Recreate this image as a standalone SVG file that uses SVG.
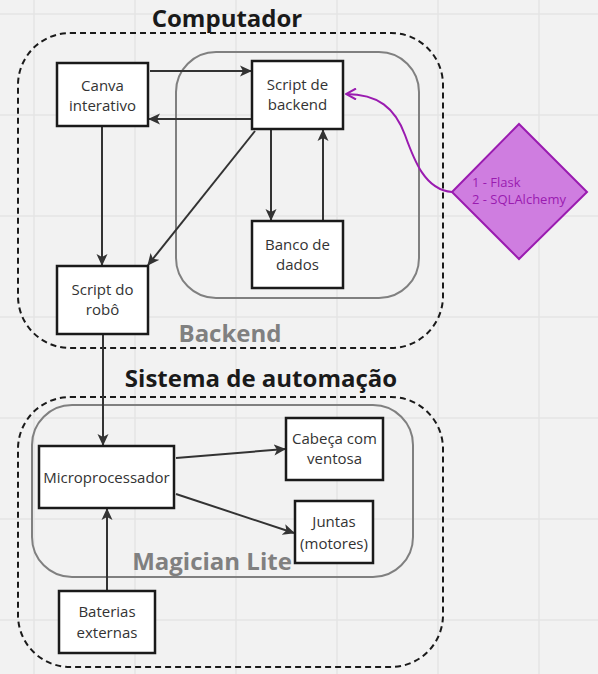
<svg xmlns="http://www.w3.org/2000/svg" width="598" height="674" viewBox="0 0 598 674">
<defs>
<style>
.grid{stroke:#e4e4e4;stroke-width:1.5}
.node{fill:#ffffff;stroke:#1a1a1a;stroke-width:2.5}
.ntext{font-family:"Open Sans","Noto Sans",sans-serif;font-size:15px;fill:#333333;text-anchor:middle}
.title{font-family:"Open Sans","Noto Sans",sans-serif;font-size:24px;font-weight:bold;fill:#1a1a1a;text-anchor:middle}
.gtitle{font-family:"Open Sans","Noto Sans",sans-serif;font-size:24px;font-weight:bold;fill:#808080;text-anchor:middle}
.dash{fill:none;stroke:#1a1a1a;stroke-width:2;stroke-dasharray:6 4}
.inner{fill:none;stroke:#808080;stroke-width:2}
.conn{fill:none;stroke:#333333;stroke-width:2;marker-end:url(#arr)}
</style>
<marker id="arr" viewBox="0 0 12 12" refX="11" refY="6" markerWidth="12" markerHeight="12" markerUnits="userSpaceOnUse" orient="auto">
<path d="M0,0.5 L12,6 L0,11.5 L3,6 Z" fill="#333333"/>
</marker>
<marker id="parr" viewBox="0 0 12 12" refX="11" refY="6" markerWidth="12" markerHeight="12" markerUnits="userSpaceOnUse" orient="auto">
<path d="M1,0.5 L11,6 L1,11.5" fill="none" stroke="#9a1bb0" stroke-width="2"/>
</marker>
</defs>
<rect width="598" height="674" fill="#f2f2f2"/>
<g id="grid">
<line class="grid" x1="34" y1="0" x2="34" y2="674"/>
<line class="grid" x1="135" y1="0" x2="135" y2="674"/>
<line class="grid" x1="236" y1="0" x2="236" y2="674"/>
<line class="grid" x1="337" y1="0" x2="337" y2="674"/>
<line class="grid" x1="438" y1="0" x2="438" y2="674"/>
<line class="grid" x1="539" y1="0" x2="539" y2="674"/>
<line class="grid" x1="0" y1="14" x2="598" y2="14"/>
<line class="grid" x1="0" y1="115" x2="598" y2="115"/>
<line class="grid" x1="0" y1="216" x2="598" y2="216"/>
<line class="grid" x1="0" y1="317" x2="598" y2="317"/>
<line class="grid" x1="0" y1="418" x2="598" y2="418"/>
<line class="grid" x1="0" y1="519" x2="598" y2="519"/>
<line class="grid" x1="0" y1="620" x2="598" y2="620"/>
</g>
<g id="computador">
<rect class="dash" x="18" y="33" width="425" height="315" rx="52"/>
<text class="title" x="227" y="27">Computador</text>
</g>
<g id="backend">
<rect class="inner" x="176" y="52" width="243" height="246" rx="40"/>
<text class="gtitle" x="230" y="342">Backend</text>
</g>
<g id="sistema">
<rect class="dash" x="18" y="397" width="425" height="270" rx="52"/>
<text class="title" x="261" y="387">Sistema de automação</text>
</g>
<g id="magician">
<rect class="inner" x="32" y="405" width="381" height="172" rx="40"/>
<text class="gtitle" x="212" y="570">Magician Lite</text>
</g>
<g id="connectors">
<line class="conn" x1="150" y1="71" x2="251" y2="71"/>
<line class="conn" x1="251" y1="119" x2="149" y2="119"/>
<line class="conn" x1="102" y1="127" x2="102" y2="265"/>
<line class="conn" x1="255" y1="131" x2="148" y2="265"/>
<line class="conn" x1="271" y1="130" x2="271" y2="220"/>
<line class="conn" x1="323" y1="220" x2="323" y2="130"/>
<line class="conn" x1="103" y1="335" x2="103" y2="445"/>
<line class="conn" x1="176" y1="458" x2="285" y2="449"/>
<line class="conn" x1="176" y1="494" x2="294" y2="533"/>
<line class="conn" x1="107" y1="590" x2="107" y2="509"/>
<path d="M452,192 C425,190 414,160 405,135 C395,108 378,94 346,94" fill="none" stroke="#9a1bb0" stroke-width="2" marker-end="url(#parr)"/>
</g>
<g id="canva">
<rect class="node" x="57" y="63" width="91" height="63"/>
<text class="ntext" x="102.5" y="91">Canva</text>
<text class="ntext" x="102.5" y="111">interativo</text>
</g>
<g id="script-backend">
<rect class="node" x="252" y="61" width="91" height="68"/>
<text class="ntext" x="297.5" y="90">Script de</text>
<text class="ntext" x="297.5" y="110">backend</text>
</g>
<g id="banco">
<rect class="node" x="252" y="221" width="91" height="67"/>
<text class="ntext" x="297.5" y="250">Banco de</text>
<text class="ntext" x="297.5" y="270">dados</text>
</g>
<g id="script-robo">
<rect class="node" x="57" y="266" width="91" height="68"/>
<text class="ntext" x="102.5" y="295">Script do</text>
<text class="ntext" x="102.5" y="315">robô</text>
</g>
<g id="diamond">
<polygon points="519,124 587,192 519,259 452,192" fill="#cf7de0" stroke="#9a1bb0" stroke-width="2"/>
<text x="472" y="187" font-family="Open Sans, Noto Sans, sans-serif" font-size="13" fill="#9a1bb0">1 - Flask</text>
<text x="472" y="204" font-family="Open Sans, Noto Sans, sans-serif" font-size="13" fill="#9a1bb0">2 - SQLAlchemy</text>
</g>
<g id="micro">
<rect class="node" x="39" y="446" width="135" height="62"/>
<text class="ntext" x="106.5" y="483">Microprocessador</text>
</g>
<g id="cabeca">
<rect class="node" x="286" y="418" width="97" height="62"/>
<text class="ntext" x="334.5" y="444">Cabeça com</text>
<text class="ntext" x="334.5" y="464">ventosa</text>
</g>
<g id="juntas">
<rect class="node" x="295" y="501" width="78" height="62"/>
<text class="ntext" x="334" y="527">Juntas</text>
<text class="ntext" x="334" y="549">(motores)</text>
</g>
<g id="baterias">
<rect class="node" x="59" y="591" width="96" height="62"/>
<text class="ntext" x="107" y="617">Baterias</text>
<text class="ntext" x="107" y="638">externas</text>
</g>
</svg>
